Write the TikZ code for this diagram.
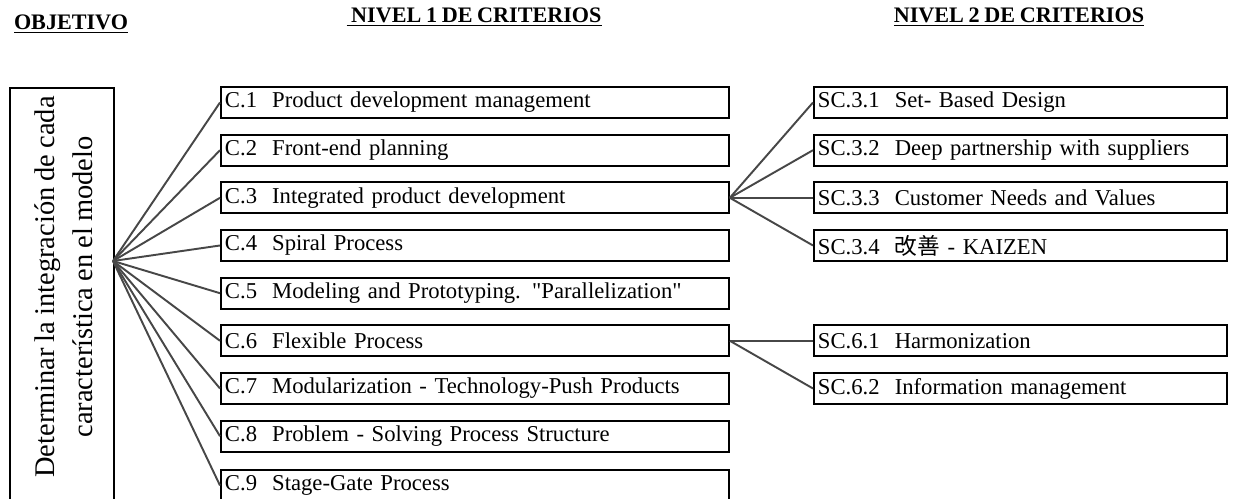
\documentclass[tikz,border=0pt]{standalone}
\usepackage{fontspec}
\setmainfont{Liberation Serif}[WordSpace=0.85]
\newfontfamily\cjk{Noto Sans CJK JP}
\usepackage{tikz}

\begin{document}
\begin{tikzpicture}[x=0.02cm, y=-0.02cm,
  crit/.style={draw, line width=1.1pt, anchor=west, minimum height=0.62cm,
    inner ysep=0pt, inner xsep=0.08cm, text width=10.0cm, align=left,
    font=\fontsize{12.9}{14}\selectfont},
  subcrit/.style={crit, text width=8.1cm},
  link/.style={draw=black!72, line width=1.1pt},
  title/.style={font=\bfseries\fontsize{12.6}{14}\selectfont}]
\useasboundingbox (0,0) rectangle (1236,499);

% titles
\node[title] (tobj) at (71,24) {\underline{OBJETIVO}};
\node[title] (tniv1) at (474,17) {\underline{\ NIVEL 1 DE CRITERIOS}};
\node[title] (tniv2) at (1019,17) {\underline{NIVEL 2 DE CRITERIOS}};

% objective
\node[draw, line width=1.1pt, anchor=north west, minimum width=2.08cm,
  minimum height=8.5cm, inner sep=0pt] (obj) at (9,87) {};
\node[rotate=90, align=center, font=\fontsize{16.2}{21.5}\selectfont] (objtxt) at (64,287)
  {Determinar la integración de cada\\característica en el modelo};
\coordinate (hub) at (113,261);

% level 1
\node[crit] (c1) at (220,102.5) {C.1\ \ Product development management};
\node[crit] (c2) at (220,150.2) {C.2\ \ Front-end planning};
\node[crit] (c3) at (220,197.8) {C.3\ \ Integrated product development};
\node[crit] (c4) at (220,245.5) {C.4\ \ Spiral Process};
\node[crit] (c5) at (220,293.2) {C.5\ \ Modeling and Prototyping. \textquotedbl Parallelization\textquotedbl};
\node[crit] (c6) at (220,340.8) {C.6\ \ Flexible Process};
\node[crit] (c7) at (220,388.5) {C.7\ \ Modularization - Technology-Push Products};
\node[crit] (c8) at (220,436.2) {C.8\ \ Problem - Solving Process Structure};
\node[crit] (c9) at (220,485.5) {C.9\ \ Stage-Gate Process};

% level 2
\node[subcrit] (s31) at (813,102.5) {SC.3.1\ \ Set- Based Design};
\node[subcrit] (s32) at (813,150.2) {SC.3.2\ \ Deep partnership with suppliers};
\node[subcrit] (s33) at (813,197.8) {SC.3.3\ \ Customer Needs and Values};
\node[subcrit] (s34) at (813,245.5) {SC.3.4\ \ {\cjk 改善} - KAIZEN};
\node[subcrit] (s61) at (813,340.8) {SC.6.1\ \ Harmonization};
\node[subcrit] (s62) at (813,388.5) {SC.6.2\ \ Information management};

% connectors
\foreach \i in {1,...,9}
  \draw[link] (hub) -- (c\i.west);
\foreach \j in {1,...,4}
  \draw[link] (c3.east) -- (s3\j.west);
\draw[link] (c6.east) -- (s61.west);
\draw[link] (c6.east) -- (s62.west);
\end{tikzpicture}
\end{document}
